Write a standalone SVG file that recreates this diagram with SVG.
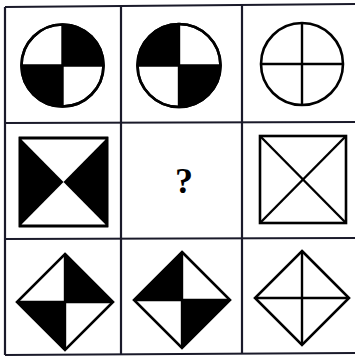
<svg xmlns="http://www.w3.org/2000/svg" width="355" height="360" viewBox="0 0 355 360">
<style>
.grid{stroke:#1a1a2a;stroke-width:2.2;fill:none}
.o{stroke:#000;stroke-width:2.6;fill:#fff;stroke-linejoin:miter}
.l{stroke:#000;stroke-width:2.4;fill:none}
.b{fill:#000;stroke:none}
.q{font-family:"Liberation Serif",serif;font-weight:bold;font-size:36px;fill:#000}
</style>
<rect width="355" height="360" fill="#fff"/>
<g id="grid">
<line class="grid" x1="5" y1="7" x2="357" y2="4"/>
<line class="grid" x1="5" y1="123" x2="357" y2="122"/>
<line class="grid" x1="5" y1="239" x2="357" y2="238"/>
<line class="grid" x1="5" y1="355" x2="357" y2="353"/>
<line class="grid" x1="5" y1="7" x2="5" y2="355"/>
<line class="grid" x1="121" y1="6" x2="121" y2="354"/>
<line class="grid" x1="242" y1="5" x2="242" y2="354"/>
</g>
<g id="c11">
<circle class="o" cx="62.5" cy="65.5" r="41"/>
<path class="b" d="M62.5 65.5 V24.5 A41 41 0 0 1 103.5 65.5 Z"/>
<path class="b" d="M62.5 65.5 V106.5 A41 41 0 0 1 21.5 65.5 Z"/>
<circle class="o" cx="62.5" cy="65.5" r="41" style="fill:none"/>
<line class="l" x1="62.5" y1="24.5" x2="62.5" y2="106.5"/>
<line class="l" x1="21.5" y1="65.5" x2="103.5" y2="65.5"/>
</g>
<g id="c12">
<circle class="o" cx="179" cy="65.5" r="41.5"/>
<path class="b" d="M179 65.5 V24 A41.5 41.5 0 0 0 137.5 65.5 Z"/>
<path class="b" d="M179 65.5 V107 A41.5 41.5 0 0 0 220.5 65.5 Z"/>
<circle class="o" cx="179" cy="65.5" r="41.5" style="fill:none"/>
<line class="l" x1="179" y1="24" x2="179" y2="107"/>
<line class="l" x1="137.5" y1="65.5" x2="220.5" y2="65.5"/>
</g>
<g id="c13">
<circle class="o" cx="302" cy="64" r="41"/>
<line class="l" x1="302" y1="23" x2="302" y2="105"/>
<line class="l" x1="261" y1="64" x2="343" y2="64"/>
</g>
<g id="c21">
<rect class="o" x="20" y="138" width="87" height="88"/>
<path class="b" d="M20 138 L63.5 182 L20 226 Z"/>
<path class="b" d="M107 138 L63.5 182 L107 226 Z"/>
<rect class="o" x="20" y="138" width="87" height="88" style="fill:none"/>
</g>
<g id="c22">
<text class="q" x="184" y="193" text-anchor="middle">?</text>
</g>
<g id="c23">
<rect class="o" x="260" y="136" width="86" height="87"/>
<line class="l" x1="260" y1="136" x2="346" y2="223"/>
<line class="l" x1="346" y1="136" x2="260" y2="223"/>
</g>
<g id="c31">
<path class="b" d="M65 254 L113 302 H65 Z"/>
<path class="b" d="M65 350 L17 302 H65 Z"/>
<path class="o" d="M65 254 L113 302 L65 350 L17 302 Z" style="fill:none"/>
<line class="l" x1="65" y1="254" x2="65" y2="350"/>
<line class="l" x1="17" y1="302" x2="113" y2="302"/>
</g>
<g id="c32">
<path class="b" d="M182 252 L134 300 H182 Z"/>
<path class="b" d="M182 348 L230 300 H182 Z"/>
<path class="o" d="M182 252 L230 300 L182 348 L134 300 Z" style="fill:none"/>
<line class="l" x1="182" y1="252" x2="182" y2="348"/>
<line class="l" x1="134" y1="300" x2="230" y2="300"/>
</g>
<g id="c33">
<path class="o" d="M302 251 L349 298 L302 345 L255 298 Z"/>
<line class="l" x1="302" y1="251" x2="302" y2="345"/>
<line class="l" x1="255" y1="298" x2="349" y2="298"/>
</g>
</svg>
